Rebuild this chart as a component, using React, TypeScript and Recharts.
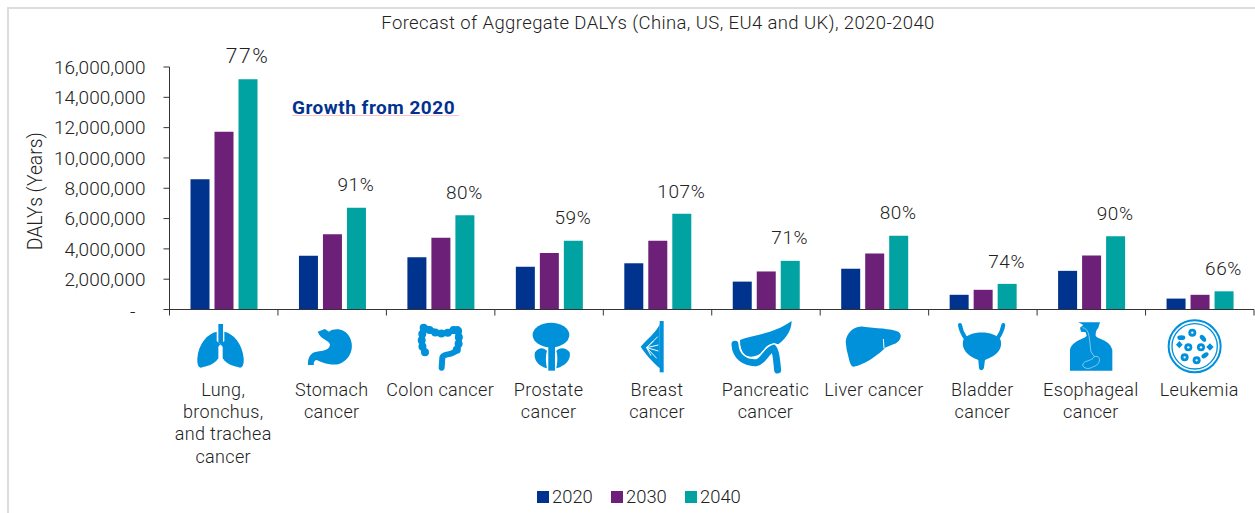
import { Bar, BarChart, Label, LabelList, Legend, XAxis, YAxis } from "recharts";

const categoryLines = [
  ["Lung,", "bronchus,", "and trachea", "cancer"],
  ["Stomach", "cancer"],
  ["Colon cancer"],
  ["Prostate", "cancer"],
  ["Breast", "cancer"],
  ["Pancreatic", "cancer"],
  ["Liver cancer"],
  ["Bladder", "cancer"],
  ["Esophageal", "cancer"],
  ["Leukemia"],
];
const values2020 = [8600000, 3540000, 3450000, 2820000, 3050000, 1840000, 2690000, 970000, 2550000, 720000];
const values2030 = [11720000, 4970000, 4730000, 3730000, 4530000, 2510000, 3700000, 1300000, 3570000, 970000];
const values2040 = [15200000, 6720000, 6220000, 4530000, 6310000, 3210000, 4860000, 1690000, 4830000, 1200000];
const growth = ["77%", "91%", "80%", "59%", "107%", "71%", "80%", "74%", "90%", "66%"];
const yTicks = [0, 2000000, 4000000, 6000000, 8000000, 10000000, 12000000, 14000000, 16000000];

const chartData = categoryLines.map((lines, i) => ({
  name: lines.join(" "),
  y2020: values2020[i],
  y2030: values2030[i],
  y2040: values2040[i],
  growth: growth[i],
}));

const BLUE = "#00338D";
const PURPLE = "#6D2077";
const TEAL = "#00A3A1";
const ICON = "#0091DA";
const FONT = "Roboto, sans-serif";
const BAND = 108.45;

// icons are traced at 3x, each group shifts them back under its category
function Icon({ index }: { index: number }) {
  switch (index) {
    case 0:
      return (
        <g transform="translate(-38.7 5.5) scale(0.3333)" fill={ICON}>
          <path d="M95 50 C68 56 40 85 37 130 C36 148 40 158 48 158 C64 154 88 150 100 130 L100 95 L106 88 L95 78 Z" />
          <path d="M118 50 C145 56 172 85 176 130 C177 148 173 158 165 158 C149 154 125 150 113 130 L113 95 L106 88 L118 78 Z" />
          <path d="M100 27 H114 V82 L107 89 L100 82 Z" />
        </g>
      );
    case 1:
      return (
        <g transform="translate(-147.2 5.5) scale(0.3333)" fill={ICON}>
          <path d="M398 50 L420 42 L432 50 C450 38 480 40 495 68 C510 100 495 135 460 148 C430 152 405 140 395 135 C388 135 385 145 387 150 L369 150 C368 130 375 113 395 110 C415 108 435 105 435 88 C432 75 408 75 398 50 Z" />
        </g>
      );
    case 2:
      return (
        <g transform="translate(-255.6 5.5) scale(0.3333)" fill="none" stroke={ICON} strokeLinecap="round" strokeLinejoin="round">
          <path strokeWidth={18} d="M720 112 C705 90 710 60 716 38 C740 45 750 58 775 55 C795 55 805 42 818 42 C822 60 825 85 815 105 C800 125 775 112 772 128 L770 158" />
          <path strokeWidth={24} strokeDasharray="0 19" d="M720 112 C705 90 710 60 716 38 C740 45 750 58 775 55 C795 55 805 42 818 42 C822 60 825 85 815 105" />
        </g>
      );
    case 3:
      return (
        <g transform="translate(-24.1 5.5) scale(0.3333)" fill={ICON}>
          <ellipse cx={78} cy={60} rx={55} ry={37} />
          <path d="M30 112 C42 94 58 98 66 108 C60 125 64 150 66 160 C42 155 24 135 30 112 Z" />
          <path d="M134 112 C122 94 100 98 94 108 C100 125 96 150 94 160 C118 155 140 135 134 112 Z" />
          <rect x={70} y={92} width={20} height={75} />
        </g>
      );
    case 4:
      return (
        <g transform="translate(-132.5 5.5) scale(0.3333)">
          <rect x={404} y={18} width={12} height={154} fill={ICON} />
          <path d="M404 28 C395 50 365 75 347 95 C360 115 385 145 405 160 Z" fill={ICON} />
          <path d="M365 98 L398 65 M365 98 L385 78 M365 98 L400 90 M365 98 L400 108 M365 98 L395 130 M365 98 L378 122" stroke="#fff" strokeWidth={3} fill="none" />
        </g>
      );
    case 5:
      return (
        <g transform="translate(-241 5.5) scale(0.3333)" fill="none" strokeLinecap="round">
          <path fill={ICON} d="M645 75 C680 60 740 60 800 18 C800 40 790 65 760 88 C745 82 725 88 715 108 C700 125 675 130 660 120 C650 110 645 95 645 75 Z" />
          <path stroke="#fff" strokeWidth={29} d="M630 88 C632 125 660 145 695 143 C715 140 725 105 745 100 C755 110 755 140 758 165" />
          <path stroke={ICON} strokeWidth={21} d="M630 88 C632 125 660 145 695 143 C715 140 725 105 745 100 C755 110 755 140 758 165" />
        </g>
      );
    case 6:
      return (
        <g transform="translate(-39.4 5.5) scale(0.3333)">
          <path fill={ICON} d="M32 80 C35 50 60 33 85 35 C120 40 170 40 190 50 C205 60 195 82 175 88 L150 98 C135 115 90 150 55 155 C45 155 42 130 35 105 Z" />
          <path d="M145 72 L147 100" stroke="#fff" strokeWidth={3} fill="none" />
        </g>
      );
    case 7:
      return (
        <g transform="translate(-147.9 5.5) scale(0.3333)">
          <path fill={ICON} d="M385 75 C400 45 480 45 497 75 C503 100 490 120 450 135 L447 158 C445 168 433 168 432 158 L430 135 C395 122 378 100 385 75 Z" />
          <path stroke={ICON} strokeWidth={12} strokeLinecap="round" fill="none" d="M375 30 C378 50 385 60 392 70 M505 30 C502 50 495 60 488 70" />
        </g>
      );
    case 8:
      return (
        <g transform="translate(-256.3 5.5) scale(0.3333)">
          <path fill={ICON} d="M730 22 L795 22 L790 38 C782 45 782 55 782 62 C786 72 826 74 832 105 L832 167 L705 167 L705 105 C710 76 750 72 755 62 L752 52 L738 50 L735 38 L745 30 Z" />
          <path stroke="#fff" strokeWidth={1.5} fill="none" d="M742 38 C765 40 762 70 768 110 L778 125 C800 118 798 150 775 155 C760 165 745 160 743 150 C745 135 770 140 778 125" />
        </g>
      );
    default:
      return (
        <g transform="translate(-44.8 5.5) scale(0.3333)" fill={ICON}>
          <circle cx={119} cy={94} r={78} fill="none" stroke={ICON} strokeWidth={6} />
          <circle cx={119} cy={94} r={68} fill="none" stroke={ICON} strokeWidth={4} />
          {[[112, 53], [100, 97], [138, 97], [89, 127], [125, 136]].map(([cx, cy]) => (
            <g key={cx}>
              <circle cx={cx} cy={cy} r={12} />
              <circle cx={cx} cy={cy} r={3.5} fill="#fff" />
            </g>
          ))}
          <ellipse cx={79} cy={68} rx={12} ry={7} />
          <ellipse cx={144} cy={70} rx={12} ry={7} transform="rotate(50 144 70)" />
          <ellipse cx={150} cy={121} rx={12} ry={7} transform="rotate(-35 150 121)" />
          <path d="M73 78 L83 89 L73 100 L63 89 Z M165 85 L176 96 L165 107 L154 96 Z" />
        </g>
      );
  }
}

function CategoryTick({ x, y, index }: any) {
  return (
    <g transform={`translate(${x} ${y})`}>
      <line x1={-BAND / 2} x2={-BAND / 2} y1={0} y2={6} stroke="#333" />
      {index === categoryLines.length - 1 && <line x1={BAND / 2} x2={BAND / 2} y1={0} y2={6} stroke="#333" />}
      <Icon index={index} />
      {categoryLines[index].map((line, i) => (
        <text key={line} x={-0.5} y={86 + i * 22.4} textAnchor="middle" fontSize={18} letterSpacing={0.35} fontWeight={300} fontFamily={FONT} fill="#222">
          {line}
        </text>
      ))}
    </g>
  );
}

function ValueTick({ x, y, payload }: any) {
  const zero = payload.value === 0;
  return (
    <text x={zero ? x - 26 : x - 16} y={zero ? y + 1.5 : y} dy="0.35em" textAnchor="end" fontSize={19} fontWeight={300} fontFamily={FONT} fill="#222">
      {zero ? "-" : payload.value.toLocaleString("en-US")}
    </text>
  );
}

function GrowthLabel({ x, y, width, value, index }: any) {
  const first = index === 0;
  return (
    <text x={x + width / 2 - 0.5} y={y - 23} dy="0.35em" textAnchor="middle" fontSize={first ? 21 : 19} letterSpacing={first ? 1.5 : 0.6} fontWeight={300} fontFamily={FONT} fill="#222">
      {value}
    </text>
  );
}

function YearLegend({ payload }: any) {
  return (
    <div style={{ display: "flex", fontFamily: FONT, fontWeight: 300, fontSize: 18.4, color: "#222", lineHeight: "20px" }}>
      {payload.map((item: any) => (
        <div key={item.value} style={{ display: "flex", alignItems: "center", width: 74 }}>
          <span style={{ width: 12, height: 12, background: item.color, marginRight: 3 }} />
          {item.value}
        </div>
      ))}
    </div>
  );
}

export default function App() {
  return (
    <div style={{ position: "absolute", left: 0, top: 0, width: 1255, height: 513, background: "#fff", overflow: "hidden" }}>
      <div style={{ position: "absolute", left: 7, top: 7, right: 0, bottom: 0, borderTop: "2px solid #ddd", borderLeft: "2px solid #ddd" }} />
      <div style={{ position: "absolute", left: 0, width: 1316, top: 12, textAlign: "center", fontFamily: FONT, fontWeight: 300, fontSize: 18.5, letterSpacing: 0.39, color: "#222", whiteSpace: "nowrap" }}>
        Forecast of Aggregate DALYs (China, US, EU4 and UK), 2020-2040
      </div>
      <BarChart
        width={1255}
        height={513}
        data={chartData}
        barSize={19}
        barGap={5}
        margin={{ top: 67, right: 1, bottom: 33.5, left: 0 }}
        style={{ position: "absolute", left: 0, top: 0 }}
      >
        <XAxis dataKey="name" interval={0} height={150} tickLine={false} tickSize={0} tickMargin={0} tick={CategoryTick} stroke="#333" />
        <YAxis width={169.5} domain={[0, 16000000]} ticks={yTicks} interval={0} tickSize={6} tick={ValueTick} stroke="#333">
          <Label value="DALYs (Years)" angle={-90} position="center" dx={-50} dy={3} fontSize={19.3} fontWeight={300} fontFamily={FONT} fill="#222" />
        </YAxis>
        <Legend
          content={YearLegend}
          height={20}
          wrapperStyle={{ position: "absolute", left: 537, top: 487, width: 222, height: 20 }}
        />
        <Bar dataKey="y2020" name="2020" fill={BLUE} isAnimationActive={false} />
        <Bar dataKey="y2030" name="2030" fill={PURPLE} isAnimationActive={false} />
        <Bar dataKey="y2040" name="2040" fill={TEAL} isAnimationActive={false}>
          <LabelList dataKey="growth" content={GrowthLabel} />
        </Bar>
      </BarChart>
      <div style={{ position: "absolute", left: 292, top: 97, width: 167, borderBottom: "1px solid #f6c4d2", height: 18, lineHeight: "22px", fontFamily: FONT, fontWeight: 700, fontSize: 19, letterSpacing: 0.5, color: BLUE, whiteSpace: "nowrap" }}>
        Growth from 2020
      </div>
    </div>
  );
}
